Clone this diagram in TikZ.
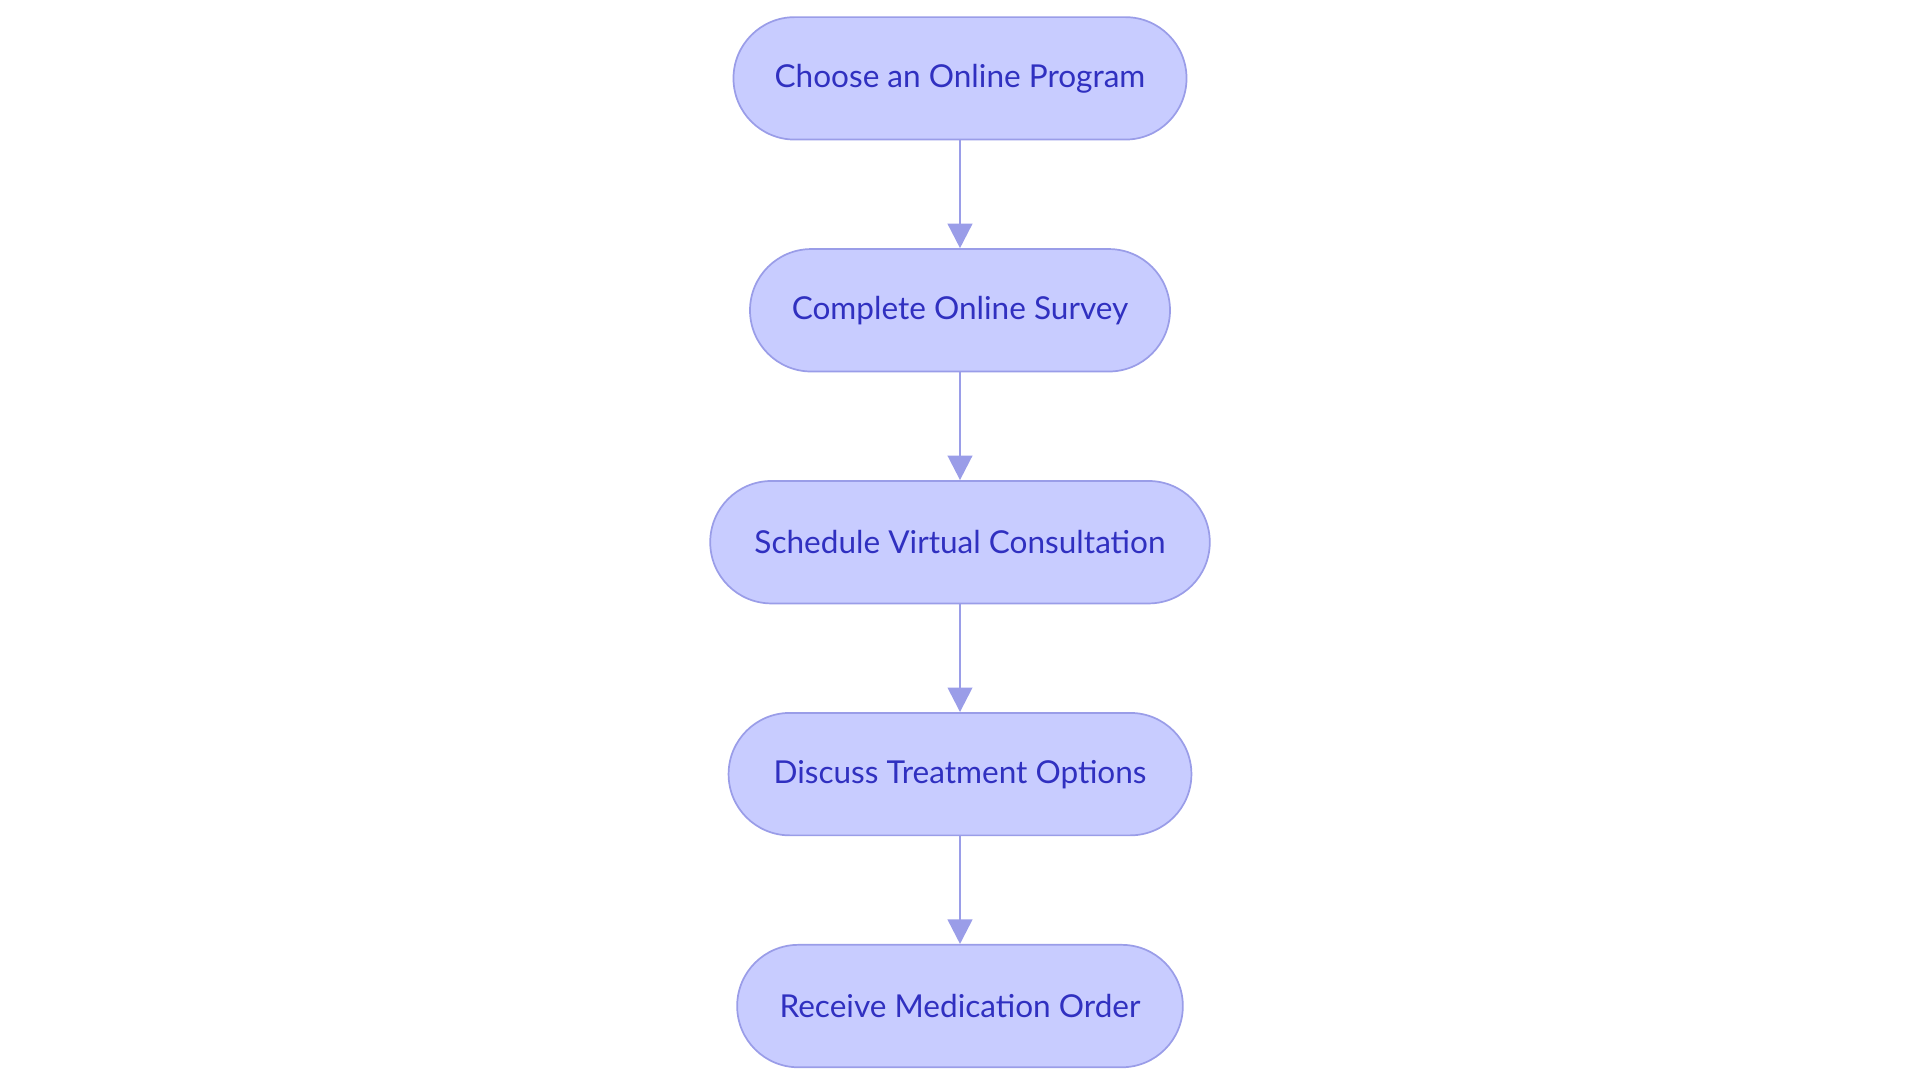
\documentclass[tikz,border=0pt]{standalone}
\usepackage{fontspec}
\setmainfont{Lato}
\usetikzlibrary{positioning,arrows.meta}
\definecolor{stepfill}{HTML}{C8CCFF}
\definecolor{stepline}{HTML}{9A9DE8}
\definecolor{steptext}{HTML}{3030C0}

\begin{document}
\begin{tikzpicture}[
    stage/.style={draw=stepline, line width=1.2pt, fill=stepfill, text=steptext,
      rounded corners=1.5cm, minimum height=3cm, inner sep=0pt,
      font=\fontsize{22}{26}\selectfont},
    flow/.style={draw=stepline, line width=1.8pt, -{Triangle[length=0.6cm,width=0.6cm]}},
    node distance=2.64cm]
  \useasboundingbox (0,0) rectangle (47.04,26.52);
  \node[stage, minimum width=11.1cm] (choose) at (23.52,24.6) {Choose an Online Program};
  \node[stage, minimum width=10.29cm, below=of choose] (survey) {Complete Online Survey};
  \node[stage, minimum width=12.24cm, below=of survey] (consult) {Schedule Virtual Consultation};
  \node[stage, minimum width=11.34cm, below=of consult] (discuss) {Discuss Treatment Options};
  \node[stage, minimum width=10.92cm, below=of discuss] (order) {Receive Medication Order};
  \draw[flow] (choose) -- (survey);
  \draw[flow] (survey) -- (consult);
  \draw[flow] (consult) -- (discuss);
  \draw[flow] (discuss) -- (order);
\end{tikzpicture}
\end{document}
